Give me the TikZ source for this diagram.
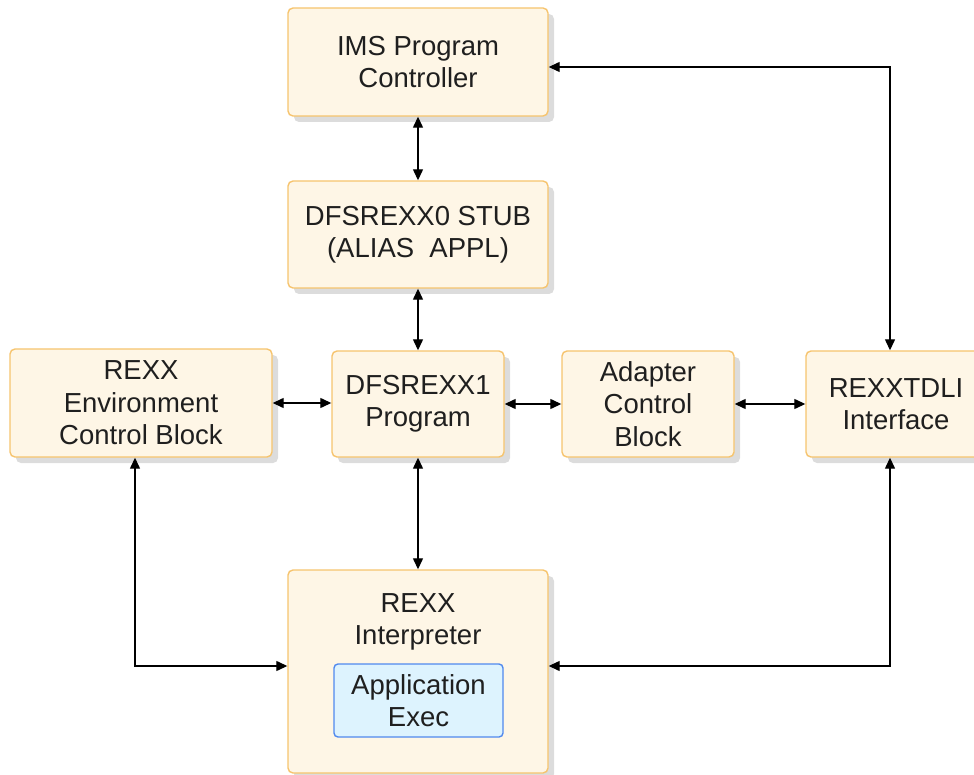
\documentclass[tikz,border=0pt]{standalone}
\usepackage{fontspec}
\setmainfont{Liberation Sans}
\usetikzlibrary{arrows.meta,shadows}
\definecolor{boxfill}{HTML}{FEF6E6}
\definecolor{boxline}{HTML}{F6C46E}
\definecolor{appfill}{HTML}{DDF3FE}
\definecolor{appline}{HTML}{5089EE}
\definecolor{shadowc}{HTML}{DCDCDC}
\begin{document}
\begin{tikzpicture}[x=1pt,y=-1pt,
  box/.style={draw=boxline, fill=boxfill, line width=1.4pt, rounded corners=5pt,
    align=center, inner sep=0pt,
    drop shadow={shadow xshift=6pt, shadow yshift=-6pt, fill=shadowc, opacity=1}},
  appbox/.style={draw=appline, fill=appfill, line width=1.4pt, rounded corners=4pt,
    align=center, inner sep=0pt},
  lbl/.style={align=center, inner sep=0pt},
  arr/.style={{Triangle[length=11pt,width=10pt]}-{Triangle[length=11pt,width=10pt]}, line width=1.3pt, black},
  every node/.style={font=\fontsize{27.5}{32.5}\selectfont, text=black!88}
]
\useasboundingbox (0,0) rectangle (974,775);

\node[box, minimum width=260pt, minimum height=108pt] (ims) at (418,62) {IMS Program\\Controller};
\node[box, minimum width=260pt, minimum height=107pt] (stub) at (418,234.5) {DFSREXX0 STUB\\(ALIAS\ \ APPL)};
\node[box, minimum width=262pt, minimum height=108pt] (env) at (141,403) {REXX\\Environment\\Control Block};
\node[box, minimum width=172pt, minimum height=106pt] (d1) at (418,404) {DFSREXX1\\Program};
\node[box, minimum width=172pt, minimum height=106pt] (adapter) at (648,404) {Adapter\\Control\\Block};
\node[box, minimum width=180pt, minimum height=106pt] (tdli) at (896,404) {REXXTDLI\\Interface};
\node[box, minimum width=260pt, minimum height=203pt] (interp) at (418,671.5) {};
\node[lbl] (interpT) at (418,622) {REXX\\Interpreter};
\node[appbox, minimum width=169pt, minimum height=73pt] (app) at (418.5,700.5) {Application\\Exec};

\coordinate (cR) at (890,67);
\coordinate (cL) at (135,666);
\coordinate (cB) at (890,666);

\draw[arr] (ims.south) -- (stub.north);
\draw[arr] (stub.south) -- (d1.north);
\draw[arr] (d1.south) -- (interp.north);
\draw[arr] (env.east) -- (d1.west |- env.east);
\draw[arr] (d1.east) -- (adapter.west);
\draw[arr] (adapter.east) -- (tdli.west);
\draw[arr] (tdli.north -| cR) |- (ims.east |- cR);
\draw[arr] (env.south -| cL) |- (interp.west |- cL);
\draw[arr] (tdli.south -| cB) |- (interp.east |- cB);
\end{tikzpicture}
\end{document}
